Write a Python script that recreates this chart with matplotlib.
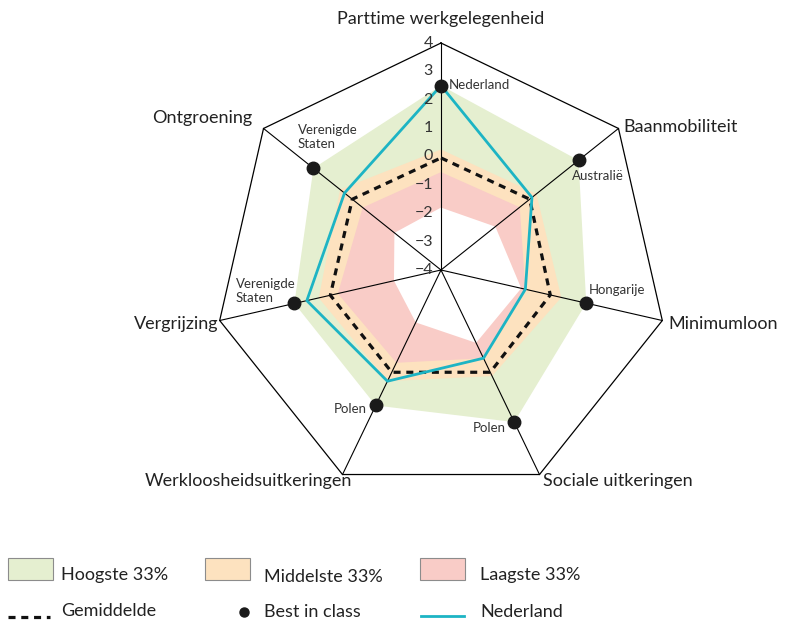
import numpy as np
from matplotlib import pyplot as plt
from matplotlib.patches import Rectangle

# Assen (met de klok mee, beginnend bovenaan)
labels = ["Parttime werkgelegenheid", "Baanmobiliteit", "Minimumloon",
          "Sociale uitkeringen", "Werkloosheidsuitkeringen", "Vergrijzing",
          "Ontgroening"]
nederland = [2.5, 0.1, -0.95, -0.55, 0.35, 0.85, 0.35]
gemiddelde = [-0.05, 0.0, -0.05, 0.0, 0.0, 0.0, 0.0]
best = [2.5, 2.2, 1.25, 1.95, 1.3, 1.3, 1.75]
best_land = ["Nederland", "Australië", "Hongarije", "Polen", "Polen",
             "Verenigde\nStaten", "Verenigde\nStaten"]
grens_hoog = [0.25, 0.3, 0.35, 0.15, 0.35, 0.42, 0.55]      # ondergrens hoogste 33%
grens_midden = [-0.55, -0.45, -0.95, -0.55, -0.37, -0.27, -0.47]  # ondergrens middelste 33%
grens_laag = [-1.8, -1.55, -1.1, -1.15, -1.95, -2.3, -1.9]   # ondergrens laagste 33%
ticks = [4, 3, 2, 1, 0, -1, -2, -3, -4]

VMIN, VMAX = -4, 4
n = len(labels)
angles = np.pi / 2 - np.arange(n) * 2 * np.pi / n

plt.rcParams["font.family"] = ["Lato", "DejaVu Sans"]

fig = plt.figure(figsize=(7.86, 6.22), dpi=100)
ax = fig.add_axes([0, 0, 1, 1])
# pixel-based frame: center at (441, 270), radius 227 px
R = 227.0
ax.set_xlim(-441 / R, (786 - 441) / R)
ax.set_ylim((270 - 622) / R, 270 / R)
ax.axis("off")


def xy(values):
    r = (np.asarray(values, dtype=float) - VMIN) / (VMAX - VMIN)
    return r * np.cos(angles), r * np.sin(angles)


def px2d(px, py):
    return (px - 441) / R, (270 - py) / R


def poly(values, color, z):
    x, y = xy(values)
    ax.fill(x, y, color=color, lw=0, zorder=z)


poly(best, "#e5efd0", 1)
poly(grens_hoog, "#fde2bf", 2)
poly(grens_midden, "#f9ccc7", 3)
poly(grens_laag, "white", 4)

# raster
ox, oy = xy([VMAX] * n)
ax.plot(np.append(ox, ox[0]), np.append(oy, oy[0]), color="black", lw=0.9, zorder=5)
for i in range(n):
    ax.plot([0, ox[i]], [0, oy[i]], color="black", lw=0.8, zorder=5)

# gemiddelde
gx, gy = xy(gemiddelde)
ax.plot(np.append(gx, gx[0]), np.append(gy, gy[0]), color="#111111", lw=2.3,
        dashes=(2.2, 1.8), zorder=6)

# nederland
nx, ny = xy(nederland)
ax.plot(np.append(nx, nx[0]), np.append(ny, ny[0]), color="#1db4c4", lw=2.0, zorder=7)

# best in class
bx, by = xy(best)
ax.plot(bx, by, "o", color="#1a1a1a", ms=9, zorder=8)

# schaal-labels
for t in ticks:
    r = (t - VMIN) / (VMAX - VMIN)
    lab = str(t).replace("-", "\u2212")
    ax.text(-8 / R, r, lab, ha="right", va="center", fontsize=11.5, color="#333333", zorder=9)

# aslabels
lab_pos = [
    (441, 19, "center"),
    (623, 127, "left"),
    (668, 324, "left"),
    (543, 481, "left"),
    (352, 481, "right"),
    (218, 324, "right"),
    (252, 118, "right"),
]
for lab, (px, py, ha) in zip(labels, lab_pos):
    tx, ty = px2d(px, py)
    ax.text(tx, ty, lab, ha=ha, va="center", fontsize=13, color="#222222")

# landnamen
land_pos = [
    (449, 85, "left"),
    (598, 176, "center"),
    (589, 290, "left"),
    (506, 428, "right"),
    (367, 409, "right"),
    (236, 291, "left"),
    (298, 137, "left"),
]
for lab, (px, py, ha) in zip(best_land, land_pos):
    tx, ty = px2d(px, py)
    ax.text(tx, ty, lab, ha=ha, va="center", fontsize=9.5,
            color="#333333", linespacing=1.25)

# legenda
legend_patches = [(8, 61, "#e5efd0", "Hoogste 33%", 575),
                  (205, 264, "#fde2bf", "Middelste 33%", 577),
                  (420, 480, "#f9ccc7", "Laagste 33%", 575)]
for x0, xt, col, txt, ty in legend_patches:
    lx, ly = px2d(x0, 580)
    ax.add_patch(Rectangle((lx, ly), 45 / R, 22 / R, facecolor=col,
                           edgecolor="#8c8c8c", lw=0.8, clip_on=False))
    tx, tyd = px2d(xt, ty)
    ax.text(tx, tyd, txt, ha="left", va="center", fontsize=13, color="#222222")

x1, y1 = px2d(8, 617)
x2, _ = px2d(50, 617)
ax.plot([x1, x2], [y1, y1], color="#111111", lw=2.3, dashes=(2.2, 1.8), clip_on=False)
tx, ty = px2d(61, 611)
ax.text(tx, ty, "Gemiddelde", ha="left", va="center", fontsize=13, color="#222222")

dx, dy = px2d(244, 612)
ax.plot([dx], [dy], "o", color="#1a1a1a", ms=6.5, clip_on=False)
tx, ty = px2d(264, 612)
ax.text(tx, ty, "Best in class", ha="left", va="center", fontsize=13, color="#222222")

x1, y1 = px2d(421, 616)
x2, _ = px2d(464, 616)
ax.plot([x1, x2], [y1, y1], color="#1db4c4", lw=2.0, clip_on=False)
tx, ty = px2d(480, 612)
ax.text(tx, ty, "Nederland", ha="left", va="center", fontsize=13, color="#222222")

plt.savefig("out.png", dpi=100)
